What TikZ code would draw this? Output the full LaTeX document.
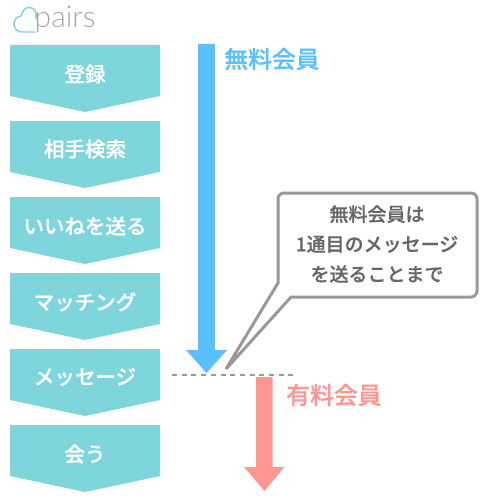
\documentclass[tikz,border=0pt]{standalone}
\usepackage{fontspec}
\setmainfont[FakeBold=0.6]{Noto Sans CJK JP Medium}
\newfontfamily\logofont{Lato Light}
\definecolor{teal1}{HTML}{7FD5DC}
\definecolor{blue1}{HTML}{5BC0FF}
\definecolor{red1}{HTML}{FF9691}
\definecolor{gray1}{HTML}{999999}
\definecolor{text1}{HTML}{666666}
\definecolor{logogray}{HTML}{A8A8A8}
\tikzset{
  x=1pt,y=-1pt,
  flowbox/.style={fill=teal1,draw=none},
  flowlabel/.style={text=white,font=\fontsize{20.5}{24}\selectfont,inner sep=0pt,anchor=center},
  memberlabel/.style={font=\fontsize{23.8}{28}\selectfont,inner sep=0pt,anchor=center},
  calloutlabel/.style={text=text1,font=\fontsize{19}{30}\selectfont,align=center,inner sep=0pt,anchor=center},
}
\begin{document}
\begin{tikzpicture}
\useasboundingbox (0,0) rectangle (484,500);
\fill[white] (0,0) rectangle (484,500);
% logo
\draw[teal1,line width=1.4,line cap=round,line join=round]
  (36,19) .. controls (37,11) and (34,7.5) .. (29,7.5)
  .. controls (25,7.5) and (22,11) .. (21.5,16)
  .. controls (17,16) and (14,20) .. (14,24)
  .. controls (14,29) and (18,32) .. (22,32) -- (35,32);
\node[inner sep=0pt,anchor=base west,text=logogray,font=\fontsize{30}{32}\logofont] (logo) at (34.5,28) {pairs};
% flow boxes
\foreach \n/\y/\t/\ty in {a/45/登録/74,b/121/相手検索/149,c/197/いいねを送る/226,d/273/マッチング/302,e/349/メッセージ/377,f/425/会う/454}{
  \fill[flowbox] (10,\y) -- (160,\y) -- (160,\y+51) -- (85,\y+67) -- (10,\y+51) -- cycle;
  \node[flowlabel] (\n) at (85,\ty) {\t};
}
% arrows
\fill[blue1] (198,44) -- (215,44) -- (215,350) -- (227,350) -- (206.5,373) -- (186,350) -- (198,350) -- cycle;
\fill[red1] (256,377) -- (272.5,377) -- (272.5,467) -- (284.5,467) -- (264.5,491) -- (244,467) -- (256,467) -- cycle;
\node[memberlabel,text=blue1] (free) at (272,59) {無料会員};
\node[memberlabel,text=red1] (paid) at (334,395) {有料会員};
% dashed
\coordinate (dl) at (172,375);
\coordinate (dr) at (293,375);
\draw[gray1,line width=2,dash pattern=on 5pt off 4.7pt] (dl) -- (dr);
% callout
\draw[gray1,line width=3,fill=white,line join=miter]
  (226,369) -- (278,283) {[rounded corners=6] -- (278,193) -- (477,193) -- (477,297)} -- (291,297) -- cycle;
\node[calloutlabel] (note) at (377,244) {無料会員は\\1通目のメッセージ\\を送ることまで};
\end{tikzpicture}
\end{document}
